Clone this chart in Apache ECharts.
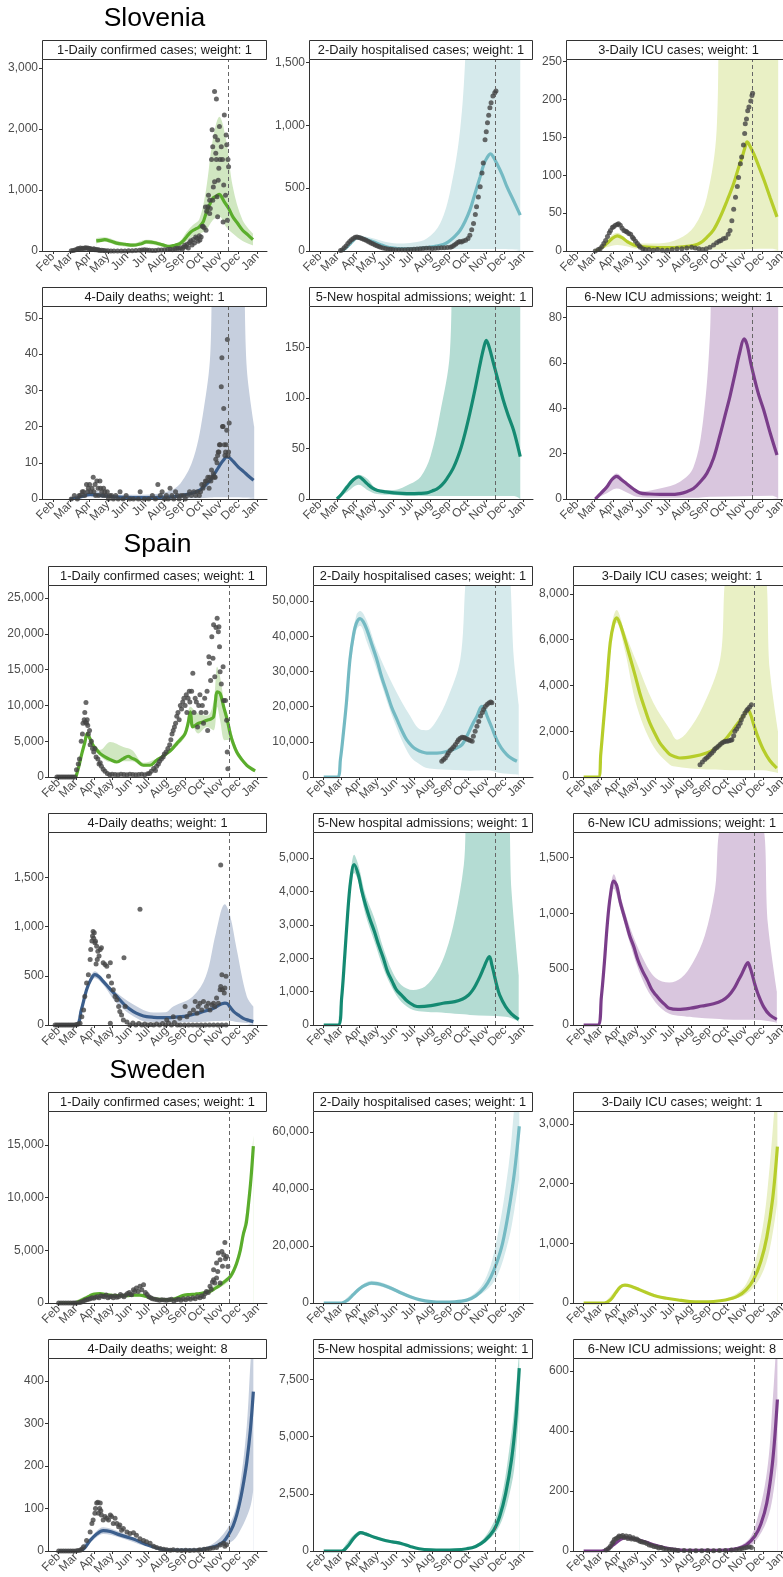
<!DOCTYPE html>
<html>
<head>
<meta charset="utf-8">
<script src="https://cdn.jsdelivr.net/npm/echarts@6/dist/echarts.min.js"></script>
<style>
  html, body { margin: 0; padding: 0; background: #fff; }
  #chart { width: 783px; height: 1577px; }
</style>
</head>
<body>
<div id="chart"></div>
<script>
// x is days since 1 Feb 2020
const monthStarts = [0, 29, 60, 90, 121, 151, 182, 213, 243, 274, 304, 335];
const monthLabels = ['Feb', 'Mar', 'Apr', 'May', 'Jun', 'Jul', 'Aug', 'Sep', 'Oct', 'Nov', 'Dec', 'Jan'];
const forecastDay = 288;
const countries = ['Slovenia', 'Spain', 'Sweden'];

// ---------- Slovenia ----------
const sloCasesTicks = [0, 1000, 2000, 3000];
const sloCasesLine = [[71,165],[78,175],[85,185],[95,160],[104,130],[118,110],[131,95],[145,120],[153,150],[161,145],[169,130],[180,100],[191,75],[200,95],[208,120],[214,170],[219,230],[225,300],[230,340],[236,370],[240,395],[246,470],[251,615],[257,760],[262,860],[268,900],[273,930],[277,880],[281,805],[288,700],[295,560],[303,450],[311,340],[320,260],[328,185]];
const sloCasesBand = [[71,120,210],[85,150,225],[104,95,170],[131,65,125],[153,115,185],[169,95,165],[191,50,100],[208,80,160],[219,160,310],[230,240,430],[240,280,520],[251,340,1000],[262,505,1820],[273,560,2200],[284,395,1820],[295,285,1050],[311,165,505],[328,93,285]];
const sloCasesObs = [[30,3],[33,8],[36,15],[39,25],[41,40],[43,30],[45,50],[47,35],[49,45],[51,40],[53,55],[55,45],[57,50],[59,35],[61,40],[63,30],[65,25],[67,35],[69,20],[71,25],[73,15],[75,20],[77,10],[80,12],[83,8],[86,5],[90,3],[95,2],[100,1],[106,0],[112,2],[118,1],[124,3],[130,5],[136,8],[142,12],[146,15],[150,20],[154,18],[158,12],[163,10],[168,8],[173,15],[178,18],[183,22],[188,25],[192,30],[196,20],[200,35],[203,45],[206,40],[209,55],[212,30],[214,60],[216,95],[218,70],[220,110],[222,50],[224,140],[226,170],[228,100],[230,190],[232,130],[234,230],[236,210],[238,160],[240,250],[241,180],[243,230],[245,400],[246,405],[248,380],[250,720],[251,340],[252,650],[254,725],[255,915],[257,830],[257,615],[258,695],[260,1500],[261,1985],[262,1710],[262,830],[263,1050],[265,2615],[265,1135],[266,1875],[267,1600],[268,2490],[268,1500],[269,890],[270,1820],[270,560],[271,1160],[272,1355],[273,2040],[274,1500],[276,1710],[278,1500],[279,475],[280,1080],[281,2230],[283,915],[284,1900],[285,1740],[286,505],[287,1500],[288,1380]];

const sloHospTicks = [0, 500, 1000, 1500];
const sloHospLine = [[36,0],[43,25],[50,59],[56,90],[61,107],[66,108],[72,99],[80,86],[89,72],[100,50],[111,32],[122,24],[132,19],[143,18],[154,19],[165,22],[176,27],[187,35],[198,45],[207,60],[215,85],[223,120],[231,165],[239,235],[247,325],[255,450],[264,592],[270,690],[275,740],[281,774],[286,745],[291,700],[300,610],[308,512],[319,400],[330,285]];
const sloHospBand = [[36,0,0],[50,40,75],[61,90,125],[72,85,118],[89,60,100],[111,25,70],[132,12,59],[154,10,67],[176,12,99],[198,14,219],[215,15,486],[231,15,966],[240,15,1600],[250,15,3000],[300,15,3000],[322,12,3000],[330,10,3000]];
const sloHospObs = [[34,3],[37,10],[40,25],[43,40],[46,60],[49,75],[52,90],[55,100],[58,110],[61,112],[64,108],[67,103],[70,98],[73,92],[76,85],[79,78],[82,70],[85,62],[88,55],[91,48],[94,42],[97,36],[100,30],[104,24],[108,20],[112,16],[116,13],[120,11],[125,10],[130,9],[135,9],[140,10],[145,11],[150,12],[155,14],[160,16],[165,18],[170,20],[175,22],[180,21],[185,20],[190,22],[195,24],[200,25],[205,26],[210,28],[215,30],[218,35],[221,45],[224,55],[227,68],[230,75],[233,72],[236,80],[240,85],[244,100],[247,125],[250,170],[253,219],[256,290],[258,352],[261,430],[264,512],[267,620],[269,700],[272,886],[274,950],[276,1020],[278,1080],[280,1140],[282,1180],[285,1233],[288,1260],[290,1273]];

const sloIcuTicks = [0, 50, 100, 150, 200, 250];
const sloIcuLine = [[30,0],[40,4],[49,10],[57,16],[66,20],[74,17.5],[83,12],[93,8],[104,6],[115,5],[134,4.5],[153,4.4],[172,5.5],[192,7.5],[203,11],[213,18],[224,28],[235,45],[246,66],[257,89],[265,110],[271,124],[276,138],[279,144],[284,138],[290,128],[298,112],[307,93],[317,70],[328,45]];
const sloIcuBand = [[30,0,0],[49,5,15],[66,8,24],[83,6,15],[99,3,10],[134,3,10],[167,3,16],[192,2,32],[213,2,71],[229,2,159],[236,2,400],[320,3,400],[330,1,400]];
const sloIcuObs = [[30,0],[35,2],[38,3],[41,6],[44,10],[47,14],[50,19],[53,24],[55,27],[58,31],[60,32],[63,34],[66,35],[68,36],[71,34],[74,30],[77,27],[80,26],[82,25],[85,23],[88,22],[91,18],[93,16],[96,13],[99,10],[102,7],[104,5],[108,3],[112,2],[118,2],[125,1],[132,2],[140,1],[148,1],[156,2],[164,3],[172,3],[180,4],[188,5],[194,4],[200,3],[206,2],[212,3],[218,5],[224,8],[229,11],[233,13],[236,14],[240,16],[244,17],[248,22],[251,27],[254,40],[257,55],[260,71],[263,85],[265,97],[268,115],[270,124],[273,140],[275,155],[276,168],[278,174],[280,185],[282,190],[285,198],[287,205],[288,208]];

const sloDeathsTicks = [0, 10, 20, 30, 40, 50];
const sloDeathsLine = [[28,0],[40,0.3],[50,0.8],[61,1.3],[78,1],[100,0.6],[132,0.4],[160,0.4],[187,0.5],[205,0.8],[220,1.3],[232,1.8],[242,2.6],[250,3.8],[258,5.2],[265,7],[272,8.9],[279,10.6],[285,11.6],[290,11.3],[296,10.3],[304,8.8],[313,7.5],[321,6.3],[329,5.2]];
const sloDeathsBand = [[28,0,0],[61,0.5,2.5],[100,0.2,1.2],[150,0.1,1.2],[187,0.1,2],[209,0.1,4.3],[231,0.2,11.6],[247,0.3,24.6],[258,0.4,40],[264,0.5,80],[305,0.5,80],[318,0.4,35.7],[330,0.3,20]];
const sloDeathsObs = [[30,0],[35,1],[40,0],[43,1],[45,1],[48,2],[50,2],[52,1],[55,4],[57,2],[58,3],[60,4],[62,2],[64,3],[66,6],[67,2],[69,4],[70,1],[72,5],[74,3],[75,1],[77,5],[78,3],[80,2],[82,1],[83,3],[85,2],[87,1],[89,2],[91,0],[93,1],[96,1],[99,0],[103,1],[107,0],[110,2],[115,0],[120,1],[126,0],[132,0],[140,0],[143,2],[150,0],[157,0],[163,1],[168,0],[172,4],[176,1],[179,2],[183,0],[186,1],[189,0],[192,3],[195,1],[198,0],[201,2],[204,1],[207,0],[210,1],[214,1],[217,0],[220,1],[224,2],[227,1],[231,2],[234,1],[237,2],[240,1],[242,2],[244,4],[246,3],[248,4],[250,5],[252,5],[254,6],[256,3],[257,6],[259,5],[260,8],[262,6],[263,7],[265,6],[266,6],[267,11],[269,10],[270,12],[271,13],[272,13],[273,15],[274,15],[276,31],[277,39],[278,20],[279,20],[280,25],[281,15],[282,12],[283,13],[284,15],[285,19],[286,44],[287,12],[288,13],[289,21]];

const sloHospAdmTicks = [0, 50, 100, 150];
const sloHospAdmLine = [[28,0],[36,5],[45,12],[55,19],[64,22],[71,19],[78,15],[86,11],[94,8.6],[108,7],[122,6],[136,5.5],[149,5.3],[163,5.5],[176,6],[185,8],[193,10],[201,14],[209,20],[220,31],[231,48],[239,65],[247,85],[256,110],[264,134],[270,150],[274,157],[279,150],[286,134],[294,116],[302,98],[310,83],[319,68],[330,42]];
const sloHospAdmBand = [[28,0,0],[45,7,15],[64,14,24],[78,9,20],[94,5,10],[122,4,9],[149,3,15],[166,3,22],[182,3,42],[198,3,85],[214,3,144],[222,3,300],[320,3,300],[330,0,300]];

const sloIcuAdmTicks = [0, 20, 40, 60, 80];
const sloIcuAdmLine = [[30,0],[39,2.5],[49,5.3],[57,8.5],[65,10],[73,8.5],[81,6.8],[92,4.5],[103,2.7],[119,2.2],[136,2],[153,2],[169,2.4],[180,3.2],[191,4.6],[202,7.5],[213,11.3],[224,18],[234,27.6],[243,37],[251,45.4],[259,55],[267,64.7],[274,70.6],[279,68],[285,60],[290,54.3],[298,46],[306,39.5],[317,29],[328,19.4]];
const sloIcuAdmBand = [[30,0,0],[49,2.5,6.5],[65,4.6,11.3],[81,3,7.5],[98,1,3.1],[136,0.5,4.6],[169,0.5,7.6],[191,0.5,14],[207,0.8,35],[218,1,72],[223,1,120],[320,1.4,120],[330,0.3,120]];

// ---------- Spain ----------
const espCasesTicks = [0, 5000, 10000, 15000, 20000, 25000];
const espCasesLine = [[29,0],[34,1500],[39,3270],[44,4800],[48,6070],[53,5300],[58,4440],[64,3800],[70,3270],[78,2800],[87,2430],[98,2100],[109,2570],[117,2900],[124,2600],[131,2340],[143,1640],[154,1640],[165,2340],[174,2800],[182,3270],[191,3900],[199,4670],[206,5300],[213,6070],[218,7500],[222,9110],[226,7010],[235,7480],[243,7700],[250,7940],[256,8100],[261,8410],[264,10500],[267,11900],[272,11680],[278,9810],[284,8000],[289,6070],[294,4700],[300,3500],[308,2500],[317,1640],[324,1200],[331,840]];
const espCasesBand = [[29,0,0],[39,3000,3500],[48,5700,6400],[58,4100,4800],[70,2900,3800],[87,2100,4900],[109,2200,4200],[124,2200,3740],[143,1400,2000],[165,2100,2600],[182,3000,3600],[199,4300,5100],[213,5600,6500],[222,7940,9810],[235,6070,8880],[250,7000,8600],[261,6540,10500],[267,9810,15400],[272,7940,14000],[280,5140,9810],[289,5200,7000],[300,3000,4000],[317,1400,1900],[331,700,1000]];
const espCasesObs = [[-3,0],[0,0],[3,0],[6,0],[9,0],[12,0],[15,0],[18,0],[21,0],[24,0],[27,0],[30,1000],[33,1800],[35,2500],[38,5000],[40,6000],[41,7500],[43,8000],[44,9000],[45,7700],[46,10400],[47,7500],[48,8000],[49,7200],[50,6000],[52,6500],[53,4500],[55,5000],[57,4000],[59,3500],[61,4000],[63,2800],[66,2500],[68,1800],[70,2000],[72,1500],[75,1100],[78,800],[82,500],[86,300],[90,400],[95,350],[100,300],[105,400],[110,350],[115,300],[120,400],[125,350],[130,300],[135,350],[140,400],[145,300],[150,450],[153,500],[156,800],[160,1200],[163,900],[165,1500],[168,1800],[170,2200],[173,2500],[176,2800],[178,3200],[181,3500],[184,4000],[187,4500],[189,5200],[191,6000],[193,6500],[195,7000],[197,7500],[199,8500],[201,9000],[203,8000],[205,10000],[207,9500],[209,10500],[211,11000],[213,10000],[215,11500],[216,9000],[218,11000],[220,12000],[221,10500],[224,12000],[226,14500],[228,9000],[230,11000],[232,10500],[234,7000],[236,10000],[238,11500],[240,9000],[242,10000],[244,7500],[246,11000],[248,9000],[250,12000],[251,6500],[253,16800],[254,15900],[256,13500],[258,19600],[260,16600],[261,21300],[263,14000],[265,20900],[267,22200],[269,20300],[270,21000],[271,18200],[272,14700],[274,13000],[277,15400],[278,10700],[281,10700],[283,7940],[284,3500],[285,1170]];

const espHospTicks = [0, 10000, 20000, 30000, 40000, 50000];
const espHospLine = [[0,0],[23,0],[28,5000],[33,12500],[38,21000],[44,33400],[50,40500],[55,43800],[61,45000],[66,44200],[72,42000],[80,38000],[89,33400],[97,28500],[106,23900],[114,19800],[123,16300],[131,13200],[139,10600],[148,8800],[156,7800],[165,7100],[173,6800],[190,6800],[207,7300],[223,8250],[232,9200],[240,11600],[249,14800],[257,17300],[265,20100],[270,19200],[274,17300],[282,14000],[290,10600],[298,8200],[307,6360],[315,5300],[324,4460]];
const espHospBand = [[23,0,0],[33,11000,14000],[44,31000,36000],[55,41900,46200],[61,43000,47200],[72,38500,44500],[89,30500,36200],[117,16300,25800],[145,5900,17300],[162,3500,13500],[173,2560,13300],[190,2200,16300],[207,2090,22000],[229,1900,33400],[246,1800,60000],[274,1900,60000],[296,1140,60000],[308,900,60000],[319,750,33400],[327,660,20600]];
const espHospObs = [[198,4460],[201,5000],[204,5400],[207,6200],[209,6800],[212,7500],[215,8060],[218,8600],[221,9200],[224,10000],[226,10600],[229,11000],[232,11300],[235,11200],[237,11100],[240,10800],[243,10600],[246,10400],[249,10150],[251,11600],[254,13000],[257,14400],[260,15800],[263,17300],[266,18300],[268,19200],[271,20000],[274,20600],[277,21000],[280,21300],[282,21100]];

const espIcuTicks = [0, 2000, 4000, 6000, 8000];
const espIcuLine = [[0,0],[25,0],[29,1000],[33,2215],[39,4000],[45,5860],[51,6700],[56,6950],[61,6730],[70,6000],[78,5280],[87,4450],[95,3670],[104,2950],[112,2360],[121,1880],[129,1490],[138,1200],[146,980],[155,880],[163,830],[186,900],[208,1050],[220,1200],[231,1410],[242,1700],[253,2070],[262,2380],[270,2650],[278,2940],[283,2700],[287,2360],[295,1750],[304,1200],[315,720],[327,390]];
const espIcuBand = [[25,0,0],[33,2000,2500],[45,5600,6200],[56,6730,7290],[70,5500,6300],[90,3090,4990],[118,1340,3240],[146,540,2070],[158,450,1630],[174,390,1920],[202,340,3090],[231,320,5130],[248,300,9000],[304,290,9000],[315,250,4690],[329,175,2000]];
const espIcuObs = [[197,540],[201,650],[205,760],[208,830],[211,900],[214,980],[217,1050],[220,1130],[222,1220],[225,1280],[228,1340],[231,1420],[234,1490],[237,1530],[240,1560],[243,1560],[246,1580],[249,1600],[251,1630],[254,1800],[256,2000],[259,2100],[262,2215],[265,2350],[267,2500],[270,2650],[273,2800],[276,2900],[278,2970],[281,3060],[284,3160]];

const espDeathsTicks = [0, 500, 1000, 1500];
const espDeathsLine = [[0,0],[30,0],[38,150],[47,358],[54,460],[61,511],[68,490],[75,443],[86,370],[98,290],[112,200],[126,136],[137,105],[148,85],[160,78],[171,75],[193,78],[216,92],[238,126],[250,148],[261,170],[268,195],[275,215],[280,222],[284,218],[289,180],[295,136],[303,100],[311,68],[320,48],[328,34]];
const espDeathsBand = [[30,0,0],[47,330,380],[61,477,545],[75,410,470],[98,222,324],[137,51,170],[160,30,126],[180,25,130],[193,24,188],[226,30,290],[248,34,494],[265,40,938],[280,44,1227],[289,44,1108],[300,30,767],[317,20,290],[328,17,188]];
const espDeathsObs = [[-6,0],[-3,0],[0,0],[3,0],[6,0],[9,0],[12,0],[15,0],[18,0],[21,0],[24,0],[27,0],[30,5],[33,10],[36,17],[39,85],[42,153],[44,290],[47,426],[50,511],[53,665],[54,767],[56,852],[57,903],[58,950],[59,880],[60,938],[61,835],[62,850],[63,620],[64,801],[65,665],[66,750],[68,700],[70,767],[72,784],[75,631],[78,614],[81,597],[84,494],[87,631],[89,426],[92,358],[95,290],[98,256],[101,188],[103,136],[106,102],[109,51],[110,682],[112,188],[87,17],[115,30],[120,0],[125,20],[130,0],[135,15],[137,1176],[140,0],[145,10],[150,0],[155,5],[160,0],[165,10],[170,0],[175,15],[180,0],[182,51],[185,20],[190,0],[193,85],[195,25],[200,0],[204,68],[205,0],[212,0],[213,188],[216,85],[219,0],[221,119],[226,0],[227,153],[230,239],[233,119],[233,0],[235,188],[238,222],[240,0],[241,153],[244,239],[247,0],[249,188],[252,222],[254,0],[255,153],[258,205],[261,222],[261,0],[263,188],[266,273],[268,0],[269,222],[272,358],[273,392],[273,1626],[275,511],[275,0],[276,358],[279,324],[280,375],[282,494],[282,0]];

const espHospAdmTicks = [0, 1000, 2000, 3000, 4000, 5000];
const espHospAdmLine = [[0,0],[24,0],[30,800],[35,2000],[40,3300],[45,4300],[51,4800],[58,4500],[64,4000],[70,3600],[77,3200],[85,2800],[92,2400],[100,2000],[107,1600],[115,1300],[122,1050],[130,900],[138,750],[145,650],[152,580],[160,550],[180,580],[200,650],[220,700],[233,780],[243,900],[250,1050],[255,1200],[262,1450],[268,1700],[274,1950],[278,2050],[282,1800],[286,1500],[290,1200],[295,900],[305,550],[315,330],[327,170]];
const espHospAdmBand = [[24,0,0],[35,1900,2100],[45,4150,4500],[51,4550,5100],[58,4300,4800],[70,3300,3900],[85,2500,3200],[100,1700,2300],[115,1100,1600],[130,700,1200],[150,450,1050],[170,400,1150],[190,380,1600],[205,360,2200],[220,340,3200],[235,320,4800],[245,300,7000],[305,250,7000],[315,200,4000],[327,100,1500]];

const espIcuAdmTicks = [0, 500, 1000, 1500];
const espIcuAdmLine = [[0,0],[24,0],[30,250],[35,550],[40,900],[45,1150],[51,1290],[56,1250],[62,1100],[70,950],[78,800],[85,700],[92,580],[100,480],[108,400],[115,320],[122,270],[130,220],[138,180],[145,150],[160,140],[180,150],[200,170],[220,190],[235,220],[245,260],[255,330],[262,400],[268,460],[275,540],[278,560],[282,510],[286,440],[290,360],[295,280],[305,160],[315,90],[327,50]];
const espIcuAdmBand = [[24,0,0],[35,520,580],[45,1100,1200],[51,1220,1350],[62,1040,1160],[78,740,880],[100,400,600],[122,200,420],[145,100,380],[165,80,420],[185,70,560],[205,60,800],[222,55,1200],[238,50,1800],[300,45,1800],[312,35,900],[327,20,300]];

// ---------- Sweden ----------
const sweCasesTicks = [0, 5000, 10000, 15000];
const sweCasesLine = [[0,0],[20,0],[30,50],[36,200],[45,450],[53,700],[60,850],[70,900],[78,800],[86,750],[100,700],[115,700],[126,750],[137,750],[146,650],[154,500],[162,400],[171,350],[180,320],[188,300],[196,400],[204,600],[212,750],[221,800],[230,850],[238,900],[247,1000],[255,1100],[264,1400],[272,1700],[281,2100],[289,2500],[295,3100],[300,3790],[306,5000],[311,6500],[316,7580],[320,9500],[324,11800],[328,14900]];
const sweCasesBand = [[20,0,0],[53,600,800],[70,800,1000],[100,600,800],[137,650,850],[171,300,400],[204,520,680],[238,800,1000],[272,1500,1950],[289,2200,2800],[300,3400,4200],[311,5900,7100],[320,8700,10300],[328,13900,15900]];
const sweCasesObs = [[0,0],[4,0],[8,0],[12,0],[16,0],[20,0],[24,0],[27,0],[30,5],[35,50],[38,100],[41,150],[44,250],[47,300],[50,350],[53,400],[56,500],[59,450],[62,550],[65,600],[68,500],[71,700],[74,650],[77,600],[80,750],[83,500],[86,600],[89,650],[92,500],[95,700],[98,550],[101,600],[104,800],[107,700],[110,600],[113,750],[116,900],[119,1000],[121,800],[123,790],[126,1260],[128,1100],[131,1420],[134,1100],[137,1580],[140,1260],[143,1740],[146,1000],[149,800],[152,600],[155,500],[158,400],[162,350],[166,300],[170,250],[174,300],[178,280],[182,250],[186,300],[190,350],[194,200],[198,300],[202,350],[206,250],[210,400],[214,300],[218,450],[222,350],[226,500],[230,400],[234,600],[238,500],[241,700],[244,600],[247,900],[249,1100],[252,1000],[255,1580],[257,1300],[259,2000],[261,2210],[261,3160],[263,1900],[266,2370],[266,3790],[268,3000],[269,4740],[272,4100],[272,1890],[275,4900],[276,3500],[278,4580],[280,5750],[281,4200],[283,4420],[285,3470]];

const sweHospTicks = [0, 20000, 40000, 60000];
const sweHospLine = [[0,0],[30,0],[40,1000],[50,3000],[60,5000],[70,6300],[80,7000],[90,6800],[100,6200],[115,5000],[130,3500],[145,2200],[160,1200],[180,500],[200,300],[220,400],[240,1000],[255,2500],[270,5500],[280,9000],[290,14000],[300,21000],[310,32000],[320,46000],[328,62000]];
const sweHospBand = [[30,0,0],[60,4500,5600],[80,6300,7800],[100,5500,7000],[130,3000,4200],[160,900,1600],[200,200,500],[240,700,1600],[270,4000,8000],[290,9000,22000],[310,22000,48000],[320,33000,70000],[328,44000,90000]];

const sweIcuTicks = [0, 1000, 2000, 3000];
const sweIcuLine = [[0,0],[35,0],[45,50],[55,180],[62,270],[70,300],[80,280],[95,220],[110,160],[125,110],[140,80],[160,50],[180,25],[200,20],[220,25],[240,50],[260,110],[275,220],[288,400],[300,700],[310,1100],[320,1750],[328,2620]];
const sweIcuBand = [[35,0,0],[62,250,290],[70,280,320],[95,200,250],[125,95,130],[160,40,60],[200,15,25],[240,35,70],[275,150,320],[300,450,1100],[315,900,2300],[328,1700,4000]];

const sweDeathsTicks = [0, 100, 200, 300, 400];
const sweDeathsLine = [[0,0],[30,0],[42,5],[53,25],[64,40],[75,48],[87,46],[103,38],[126,28],[148,15],[171,5],[193,2],[216,2],[238,3],[261,10],[270,15],[278,22],[286,38],[294,60],[300,85],[306,120],[312,165],[317,210],[323,285],[328,375]];
const sweDeathsBand = [[30,0,0],[53,20,30],[75,40,56],[103,32,45],[148,11,20],[193,1,4],[238,2,6],[270,8,28],[294,25,81],[306,49,160],[317,81,296],[324,110,460],[328,145,500]];
const sweDeathsObs = [[0,0],[4,0],[8,0],[12,0],[16,0],[20,0],[24,0],[28,0],[32,1],[36,2],[39,5],[42,10],[47,25],[53,45],[56,65],[58,73],[61,89],[62,100],[64,113],[66,115],[67,89],[69,100],[70,113],[71,95],[72,85],[75,73],[78,81],[81,77],[84,73],[87,85],[89,81],[92,65],[95,77],[98,65],[101,57],[103,61],[106,49],[109,53],[115,45],[120,41],[126,43],[131,37],[137,29],[143,25],[148,22],[154,18],[160,11],[165,8],[171,6],[177,4],[182,3],[188,2],[193,3],[200,2],[207,1],[214,2],[221,1],[228,2],[235,2],[238,3],[245,4],[250,5],[255,6],[260,7],[266,8],[272,14],[278,18],[280,11],[283,15]];

const sweHospAdmTicks = [0, 2500, 5000, 7500];
const sweHospAdmLine = [[0,0],[30,0],[40,200],[50,550],[58,750],[62,800],[70,750],[85,600],[100,480],[115,400],[130,330],[145,200],[160,100],[180,50],[200,40],[220,50],[240,100],[255,200],[270,450],[285,900],[295,1500],[305,2500],[315,4000],[322,5700],[328,8000]];
const sweHospAdmBand = [[30,0,0],[62,720,880],[85,540,660],[115,350,450],[160,80,120],[200,30,50],[240,80,130],[270,350,600],[295,1100,2000],[315,2900,5200],[322,4200,7000],[328,6200,8800]];

const sweIcuAdmTicks = [0, 200, 400, 600];
const sweIcuAdmLine = [[0,0],[30,0],[40,5],[50,20],[60,35],[70,45],[80,42],[90,38],[105,30],[120,20],[140,10],[160,4],[180,2],[200,2],[220,2],[240,3],[260,8],[275,20],[290,50],[300,90],[310,160],[320,300],[328,505]];
const sweIcuAdmBand = [[30,0,0],[60,30,40],[75,40,52],[105,25,35],[140,7,13],[180,1,3],[240,2,5],[275,12,30],[290,30,80],[310,100,260],[320,180,500],[328,300,760]];
const sweIcuAdmObs = [[38,3],[42,8],[45,15],[48,25],[50,30],[52,38],[55,42],[58,45],[60,50],[63,48],[66,52],[69,45],[72,50],[75,42],[78,48],[81,40],[84,44],[87,38],[90,40],[93,35],[96,32],[99,30],[103,28],[107,25],[111,20],[115,18],[119,15],[123,14],[127,10],[131,12],[135,8],[140,6],[145,5],[150,4],[155,3],[160,2],[170,2],[180,1],[190,1],[200,1],[210,2],[220,1],[230,2],[240,2],[250,3],[258,4],[264,6],[268,8],[272,10],[276,12],[280,14],[284,12]];

// ---------- layout ----------
const countryTop = [0, 526, 1052];
const colLeft = [[42, 309, 566], [48, 313, 573], [48, 313, 573]];
const colRight = [267, 533, 791];
const rowTop = [60, 307];
const rowBottom = [251, 499];

const kindColors = {
  cases:   ['#5aad2c', '#d0e7c1'],
  hosp:    ['#74bac3', '#d6eaec'],
  icu:     ['#b6cd2a', '#e9f0c5'],
  deaths:  ['#3b5e8c', '#c6cfde'],
  hospAdm: ['#148a72', '#b4dcd3'],
  icuAdm:  ['#7a3d8a', '#d9c6de']
};

const panels = [
  {c:0, r:0, k:0, kind:'cases',   title:'1-Daily confirmed cases; weight: 1', ymax:3130,  ticks:sloCasesTicks,  line:sloCasesLine,  band:sloCasesBand,  obs:sloCasesObs},
  {c:0, r:0, k:1, kind:'hosp',    title:'2-Daily hospitalised cases; weight: 1', ymax:1520, ticks:sloHospTicks, line:sloHospLine, band:sloHospBand, obs:sloHospObs},
  {c:0, r:0, k:2, kind:'icu',     title:'3-Daily ICU cases; weight: 1', ymax:252, ticks:sloIcuTicks, line:sloIcuLine, band:sloIcuBand, obs:sloIcuObs},
  {c:0, r:1, k:0, kind:'deaths',  title:'4-Daily deaths; weight: 1', ymax:53, ticks:sloDeathsTicks, line:sloDeathsLine, band:sloDeathsBand, obs:sloDeathsObs},
  {c:0, r:1, k:1, kind:'hospAdm', title:'5-New hospital admissions; weight: 1', ymax:190, ticks:sloHospAdmTicks, line:sloHospAdmLine, band:sloHospAdmBand},
  {c:0, r:1, k:2, kind:'icuAdm',  title:'6-New ICU admissions; weight: 1', ymax:84.7, ticks:sloIcuAdmTicks, line:sloIcuAdmLine, band:sloIcuAdmBand},

  {c:1, r:0, k:0, kind:'cases',   title:'1-Daily confirmed cases; weight: 1', ymax:26700, ticks:espCasesTicks, line:espCasesLine, band:espCasesBand, obs:espCasesObs},
  {c:1, r:0, k:1, kind:'hosp',    title:'2-Daily hospitalised cases; weight: 1', ymax:54270, ticks:espHospTicks, line:espHospLine, band:espHospBand, obs:espHospObs},
  {c:1, r:0, k:2, kind:'icu',     title:'3-Daily ICU cases; weight: 1', ymax:8340, ticks:espIcuTicks, line:espIcuLine, band:espIcuBand, obs:espIcuObs},
  {c:1, r:1, k:0, kind:'deaths',  title:'4-Daily deaths; weight: 1', ymax:1950, ticks:espDeathsTicks, line:espDeathsLine, band:espDeathsBand, obs:espDeathsObs},
  {c:1, r:1, k:1, kind:'hospAdm', title:'5-New hospital admissions; weight: 1', ymax:5750, ticks:espHospAdmTicks, line:espHospAdmLine, band:espHospAdmBand},
  {c:1, r:1, k:2, kind:'icuAdm',  title:'6-New ICU admissions; weight: 1', ymax:1720, ticks:espIcuAdmTicks, line:espIcuAdmLine, band:espIcuAdmBand},

  {c:2, r:0, k:0, kind:'cases',   title:'1-Daily confirmed cases; weight: 1', ymax:18130, ticks:sweCasesTicks, line:sweCasesLine, band:sweCasesBand, obs:sweCasesObs},
  {c:2, r:0, k:1, kind:'hosp',    title:'2-Daily hospitalised cases; weight: 1', ymax:67000, ticks:sweHospTicks, line:sweHospLine, band:sweHospBand},
  {c:2, r:0, k:2, kind:'icu',     title:'3-Daily ICU cases; weight: 1', ymax:3200, ticks:sweIcuTicks, line:sweIcuLine, band:sweIcuBand},
  {c:2, r:1, k:0, kind:'deaths',  title:'4-Daily deaths; weight: 8', ymax:452, ticks:sweDeathsTicks, line:sweDeathsLine, band:sweDeathsBand, obs:sweDeathsObs},
  {c:2, r:1, k:1, kind:'hospAdm', title:'5-New hospital admissions; weight: 1', ymax:8400, ticks:sweHospAdmTicks, line:sweHospAdmLine, band:sweHospAdmBand},
  {c:2, r:1, k:2, kind:'icuAdm',  title:'6-New ICU admissions; weight: 8', ymax:640, ticks:sweIcuAdmTicks, line:sweIcuAdmLine, band:sweIcuAdmBand, obs:sweIcuAdmObs}
];

const FONT = '"Liberation Sans", Arial, sans-serif';
const grids = [], xAxes = [], yAxes = [], series = [], graphics = [];

countries.forEach((name, c) => {
  const cx = (colLeft[c][0] + colRight[0]) / 2;
  graphics.push({
    type: 'text', x: cx, y: countryTop[c] + 19,
    style: { text: name, font: '26.5px ' + FONT, fill: '#000', textAlign: 'center', textVerticalAlign: 'middle' }
  });
});

panels.forEach((p, i) => {
  const top = countryTop[p.c] + rowTop[p.r];
  const bottom = countryTop[p.c] + rowBottom[p.r];
  const left = colLeft[p.c][p.k];
  const right = colRight[p.k];
  const col = kindColors[p.kind];

  grids.push({ left: left, top: top, width: right - left, height: bottom - top, containLabel: false, outerBoundsMode: 'none' });

  xAxes.push({
    gridIndex: i, type: 'value', min: -18, max: 351, z: 10,
    axisLine: { show: true, onZero: false, lineStyle: { color: '#333', width: 1 } },
    axisTick: { show: true, customValues: monthStarts, length: 3, lineStyle: { color: '#333' } },
    axisLabel: {
      customValues: monthStarts, rotate: 45, margin: 4,
      color: '#4d4d4d', fontSize: 12, fontFamily: FONT,
      formatter: v => monthLabels[monthStarts.indexOf(v)]
    },
    splitLine: { show: false }
  });

  yAxes.push({
    gridIndex: i, type: 'value', min: 0, max: p.ymax, z: 10,
    axisLine: { show: true, onZero: false, lineStyle: { color: '#333', width: 1 } },
    axisTick: { show: true, customValues: p.ticks, length: 3, lineStyle: { color: '#333' } },
    axisLabel: {
      customValues: p.ticks, margin: 4,
      color: '#4d4d4d', fontSize: 12, fontFamily: FONT,
      formatter: v => v.toLocaleString('en-US')
    },
    splitLine: { show: false }
  });

  // ribbon: upper edge filled to the axis, then lower edge masked in white
  series.push({
    type: 'line', xAxisIndex: i, yAxisIndex: i, smooth: 0.35,
    data: p.band.map(b => [b[0], b[2]]),
    symbol: 'none', silent: true, lineStyle: { width: 0, opacity: 0 },
    areaStyle: { color: col[1], opacity: 1, origin: 'start' }, z: 1
  });
  series.push({
    type: 'line', xAxisIndex: i, yAxisIndex: i, smooth: 0.35,
    data: p.band.map(b => [b[0], b[1]]),
    symbol: 'none', silent: true, lineStyle: { width: 0, opacity: 0 },
    areaStyle: { color: '#fff', opacity: 1, origin: 'start' }, z: 1
  });

  series.push({
    type: 'line', xAxisIndex: i, yAxisIndex: i, smooth: 0.35,
    data: p.line, symbol: 'none', silent: true,
    lineStyle: { color: col[0], width: 3.2 }, z: 3,
    markLine: {
      silent: true, symbol: ['none', 'none'], label: { show: false },
      lineStyle: { color: '#666', type: [4, 3], width: 1 },
      data: [{ xAxis: forecastDay }]
    }
  });

  if (p.obs) {
    series.push({
      type: 'scatter', xAxisIndex: i, yAxisIndex: i, data: p.obs,
      symbolSize: 5, silent: true, itemStyle: { color: '#444' }, z: 4
    });
  }

  // facet strip
  graphics.push({
    type: 'rect', shape: { x: left + 0.5, y: top - 19.5, width: right - left - 1, height: 19 },
    style: { fill: '#fff', stroke: '#333', lineWidth: 1 }
  });
  graphics.push({
    type: 'text', x: (left + right) / 2, y: top - 10,
    style: { text: p.title, font: '12.8px ' + FONT, fill: '#1a1a1a', textAlign: 'center', textVerticalAlign: 'middle' }
  });
});

const chart = echarts.init(document.getElementById('chart'), null, { renderer: 'canvas' });
chart.setOption({
  animation: false,
  backgroundColor: '#fff',
  grid: grids,
  xAxis: xAxes,
  yAxis: yAxes,
  series: series,
  graphic: graphics
});
</script>
</body>
</html>
